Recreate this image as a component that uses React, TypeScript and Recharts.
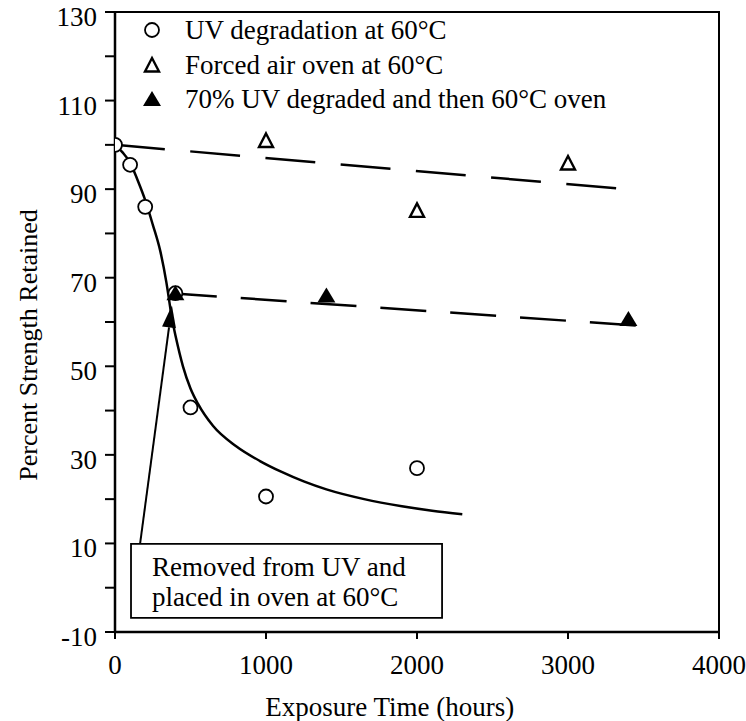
import React from 'react';
import { ComposedChart, Scatter, XAxis, YAxis, ReferenceArea, ReferenceLine } from 'recharts';

const FONT = '"Liberation Serif", "Times New Roman", Times, serif';
const FS = 27;

// measured data
const uvHours = [0, 100, 200, 400, 500, 1000, 2000];
const uvStrength = [100, 95.5, 86, 66.5, 40.7, 20.6, 27];
const ovenHours = [1000, 2000, 3000];
const ovenStrength = [101, 85.2, 95.9];
const uvOvenHours = [400, 1400, 3400];
const uvOvenStrength = [66.5, 66, 60.7];

// fitted curves
const fitUvTopHours = [0, 50, 100, 150, 200, 250, 300, 340, 375];
const fitUvTopStrength = [100, 98.3, 96, 92, 87.5, 82, 76, 69, 61];
const fitUvTailHours = [375, 400, 450, 500, 550, 650, 800, 960, 1100, 1250, 1400, 1650, 1900, 2100, 2300];
const fitUvTailStrength = [61, 57, 50, 45, 41.5, 36.5, 32, 28.6, 26.2, 24, 22.2, 20, 18.4, 17.4, 16.6];
const fitOvenHours = [0, 3350];
const fitOvenStrength = [100, 90.1];
const fitUvOvenHours = [370, 3540];
const fitUvOvenStrength = [66.5, 59];

// axes
const xTicks = [0, 1000, 2000, 3000, 4000];
const yTicks = [-10, 0, 10, 20, 30, 40, 50, 60, 70, 80, 90, 100, 110, 120, 130];
const yLabelled = [-10, 10, 30, 50, 70, 90, 110, 130];
const xDomain = [0, 4000];
const yDomain = [-10, 130];

// texts
const legendLabels = [
  'UV degradation at 60°C',
  'Forced air oven at 60°C',
  '70% UV degraded and then 60°C oven',
];
const noteLines = ['Removed from UV and', 'placed in oven at 60°C'];
const noteHours = [106, 2166];
const noteStrength = [-6.8, 9.9];
const arrowHours = [166, 377];
const arrowStrength = [9.9, 63.7];
const xTitle = 'Exposure Time (hours)';
const yTitle = 'Percent Strength Retained';

const pts = (xs: number[], ys: number[]) => xs.map((x, i) => ({ x, y: ys[i] }));

const OpenCircle = (p: any) => (
  <circle cx={p.cx} cy={p.cy} r={7} fill="#fff" stroke="#000" strokeWidth={1.8} />
);
const OpenTriangle = (p: any) => (
  <path
    d={`M${p.cx},${p.cy - 7} L${p.cx + 7},${p.cy + 6.5} L${p.cx - 7},${p.cy + 6.5} Z`}
    fill="#fff"
    stroke="#000"
    strokeWidth={2.4}
  />
);
const FilledTriangle = (p: any) => (
  <path d={`M${p.cx},${p.cy - 8} L${p.cx + 9},${p.cy + 7} L${p.cx - 9},${p.cy + 7} Z`} fill="#000" />
);
const NoShape = () => <g />;

const YTick = (p: any) => {
  const v = p.payload.value;
  if (!yLabelled.includes(v)) return <g />;
  return (
    <text x={p.x} y={p.y} dy={14} textAnchor="end" fontFamily={FONT} fontSize={FS} fill="#000">
      {String(v)}
    </text>
  );
};
const XTick = (p: any) => (
  <text x={p.x} y={p.y} dy={27} textAnchor="middle" fontFamily={FONT} fontSize={FS} fill="#000">
    {String(p.payload.value)}
  </text>
);

const ArrowShape = (p: any) => {
  const { x1, y1, x2, y2 } = p;
  const dx = x2 - x1;
  const dy = y2 - y1;
  const len = Math.sqrt(dx * dx + dy * dy);
  const ux = dx / len;
  const uy = dy / len;
  const hl = 22;
  const hw = 7;
  const bx = x2 - ux * hl;
  const by = y2 - uy * hl;
  const px = -uy;
  const py = ux;
  return (
    <g>
      <line x1={x1} y1={y1} x2={bx} y2={by} stroke="#000" strokeWidth={2} />
      <path
        d={`M${x2},${y2} L${bx + px * hw},${by + py * hw} L${bx - px * hw},${by - py * hw} Z`}
        fill="#000"
      />
    </g>
  );
};

const NoteLabel = (p: any) => {
  const vb = p.viewBox;
  return (
    <g>
      <text x={vb.x + 21} y={vb.y + 32} fontFamily={FONT} fontSize={FS} fill="#000">
        {noteLines[0]}
      </text>
      <text x={vb.x + 21} y={vb.y + 62} fontFamily={FONT} fontSize={FS} fill="#000">
        {noteLines[1]}
      </text>
    </g>
  );
};

const XTitle = (p: any) => {
  const vb = p.viewBox;
  return (
    <text x={vb.x + vb.width * 0.455} y={vb.y + 84} textAnchor="middle" fontFamily={FONT} fontSize={FS} fill="#000">
      {xTitle}
    </text>
  );
};
const YTitle = (p: any) => {
  const vb = p.viewBox;
  const cx = 28;
  const cy = vb.y + 333;
  return (
    <text
      x={cx}
      y={cy}
      dy="0.35em"
      textAnchor="middle"
      transform={`rotate(-90 ${cx} ${cy})`}
      fontFamily={FONT}
      fontSize={26}
      fill="#000"
    >
      {yTitle}
    </text>
  );
};

const Legend = () => {
  const rows = [30, 65, 99];
  const mx = 152;
  return (
    <svg width={746} height={721} style={{ position: 'absolute', left: 0, top: 0, pointerEvents: 'none' }}>
      <OpenCircle cx={mx} cy={rows[0]} />
      <OpenTriangle cx={mx} cy={rows[1]} />
      <FilledTriangle cx={mx} cy={rows[2]} />
      {legendLabels.map((t, i) => (
        <text key={t} x={185} y={rows[i]} dy="0.35em" fontFamily={FONT} fontSize={FS} fill="#000">
          {t}
        </text>
      ))}
    </svg>
  );
};

export default function App() {
  return (
    <div style={{ position: 'absolute', left: 0, top: 0, width: 746, height: 721, background: '#fff' }}>
      <ComposedChart width={746} height={721} margin={{ top: 12, right: 27, bottom: 19, left: 15 }}>
        <XAxis
          type="number"
          dataKey="x"
          domain={xDomain}
          ticks={xTicks}
          interval={0}
          allowDataOverflow
          tickSize={7}
          tickMargin={8}
          height={70}
          axisLine={{ stroke: '#000', strokeWidth: 2.5 }}
          tickLine={{ stroke: '#000', strokeWidth: 2 }}
          tick={<XTick />}
          label={{ content: <XTitle /> }}
        />
        <YAxis
          type="number"
          dataKey="y"
          domain={yDomain}
          ticks={yTicks}
          interval={0}
          allowDataOverflow
          tickSize={10}
          tickMargin={8}
          width={100}
          axisLine={{ stroke: '#000', strokeWidth: 2.5 }}
          tickLine={{ stroke: '#000', strokeWidth: 2 }}
          tick={<YTick />}
          label={{ content: <YTitle /> }}
        />
        <ReferenceArea x1={0} x2={4000} y1={-10} y2={130} fill="none" stroke="#000" strokeWidth={2} />
        <Scatter
          data={pts(fitOvenHours, fitOvenStrength)}
          line={{ stroke: '#000', strokeWidth: 2.5, strokeDasharray: '50 25.5' }}
          shape={NoShape}
          isAnimationActive={false}
        />
        <Scatter
          data={pts(fitUvOvenHours, fitUvOvenStrength)}
          line={{ stroke: '#000', strokeWidth: 2.5, strokeDasharray: '46 24' }}
          shape={NoShape}
          isAnimationActive={false}
        />
        <Scatter
          data={pts(fitUvTopHours, fitUvTopStrength)}
          line={{ stroke: '#000', strokeWidth: 2.5 }}
          lineJointType="monotoneX"
          shape={NoShape}
          isAnimationActive={false}
        />
        <Scatter
          data={pts(fitUvTailHours, fitUvTailStrength)}
          line={{ stroke: '#000', strokeWidth: 2.5 }}
          lineJointType="monotoneX"
          shape={NoShape}
          isAnimationActive={false}
        />
        <ReferenceArea
          x1={noteHours[0]}
          x2={noteHours[1]}
          y1={noteStrength[0]}
          y2={noteStrength[1]}
          fill="#fff"
          fillOpacity={1}
          stroke="#000"
          strokeWidth={1.8}
          label={<NoteLabel />}
        />
        <ReferenceLine
          segment={[
            { x: arrowHours[0], y: arrowStrength[0] },
            { x: arrowHours[1], y: arrowStrength[1] },
          ]}
          shape={ArrowShape}
          ifOverflow="visible"
        />
        <Scatter data={pts(uvHours, uvStrength)} shape={OpenCircle} isAnimationActive={false} />
        <Scatter data={pts(ovenHours, ovenStrength)} shape={OpenTriangle} isAnimationActive={false} />
        <Scatter data={pts(uvOvenHours, uvOvenStrength)} shape={FilledTriangle} isAnimationActive={false} />
      </ComposedChart>
      <Legend />
    </div>
  );
}
